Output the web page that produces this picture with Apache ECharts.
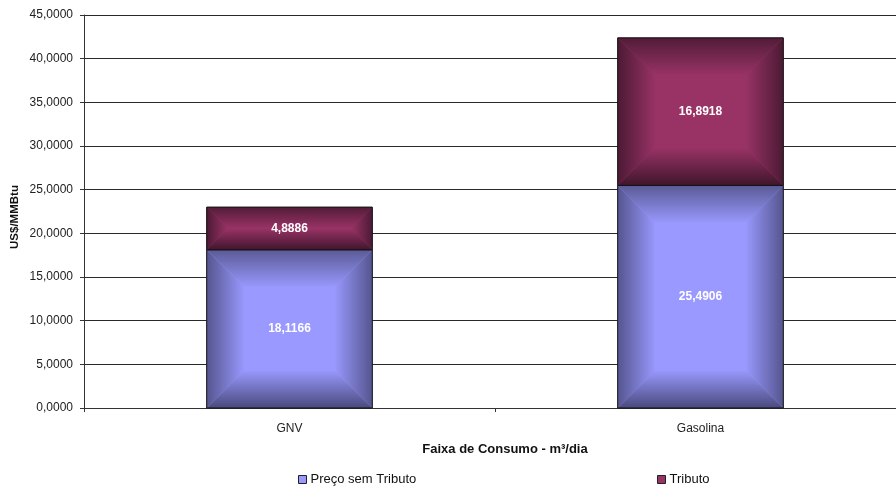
<!DOCTYPE html>
<html>
<head>
<meta charset="utf-8">
<script src="https://cdn.jsdelivr.net/npm/echarts@6/dist/echarts.min.js"></script>
<style>
  html, body { margin: 0; padding: 0; background: #fff; overflow: hidden; }
  /* the plot runs a little past the right edge of the window */
  #chart { width: 906px; height: 486px; }
</style>
</head>
<body>
<div id="chart"></div>
<script>
// Preço do GNV x Gasolina (US$/MMBtu), com e sem tributos
const categories = ['GNV', 'Gasolina'];
const precoSemTributo = [18.1166, 25.4906];
const tributo = [4.8886, 16.8918];
const yTicks = { min: 0, max: 45, interval: 5 };

const FONT = '"Liberation Sans", Arial, sans-serif';
const fmt = v => v.toFixed(4).replace('.', ',');

const chart = echarts.init(document.getElementById('chart'), null, { renderer: 'canvas' });

// Bevelled ("pillow") bar segment drawn between low and high values
function bevelRenderer(base, edge, edgeTop, edgeBottom) {
  return function (params, api) {
    const idx = api.value(0);
    const low = api.value(1);
    const high = api.value(2);
    const pLow = api.coord([idx, low]);
    const pHigh = api.coord([idx, high]);
    const band = api.size([1, 0])[0];
    const w = band * 0.403;
    const x0 = pLow[0] - w / 2, x1 = pLow[0] + w / 2;
    const y0 = pHigh[1], y1 = pLow[1];
    const h = y1 - y0;
    const b = Math.min(38, h / 2, w / 2);
    const LG = echarts.graphic.LinearGradient;
    const children = [
      { type: 'rect', shape: { x: x0, y: y0, width: w, height: h }, style: { fill: base } },
      // top
      { type: 'polygon', shape: { points: [[x0, y0], [x1, y0], [x1 - b, y0 + b], [x0 + b, y0 + b]] },
        style: { fill: new LG(0, 0, 0, 1, [{ offset: 0, color: edgeTop }, { offset: 1, color: base }]) } },
      // bottom
      { type: 'polygon', shape: { points: [[x0, y1], [x1, y1], [x1 - b, y1 - b], [x0 + b, y1 - b]] },
        style: { fill: new LG(0, 1, 0, 0, [{ offset: 0, color: edgeBottom }, { offset: 1, color: base }]) } },
      // left
      { type: 'polygon', shape: { points: [[x0, y0], [x0 + b, y0 + b], [x0 + b, y1 - b], [x0, y1]] },
        style: { fill: new LG(0, 0, 1, 0, [{ offset: 0, color: edge }, { offset: 1, color: base }]) } },
      // right
      { type: 'polygon', shape: { points: [[x1, y0], [x1 - b, y0 + b], [x1 - b, y1 - b], [x1, y1]] },
        style: { fill: new LG(1, 0, 0, 0, [{ offset: 0, color: edge }, { offset: 1, color: base }]) } },
      // outline
      { type: 'rect', shape: { x: x0, y: y0, width: w, height: h },
        style: { fill: null, stroke: '#111', lineWidth: 1 } },
      // value label
      { type: 'text', style: { text: fmt(high - low), x: (x0 + x1) / 2, y: (y0 + y1) / 2,
        align: 'center', verticalAlign: 'middle', fill: '#fff', font: 'bold 12px ' + FONT } }
    ];
    return { type: 'group', children };
  };
}

const dataPreco = precoSemTributo.map((v, i) => [i, 0, v]);
const dataTributo = tributo.map((v, i) => [i, precoSemTributo[i], precoSemTributo[i] + v]);

const legendBase = {
  top: 473, padding: 0, itemWidth: 8, itemHeight: 8, itemGap: 4, icon: 'rect',
  itemStyle: { borderColor: '#222', borderWidth: 1 },
  textStyle: { color: '#111', fontFamily: FONT, fontSize: 13, padding: [0, 0, 0, -1] }
};

chart.setOption({
  animation: false,
  backgroundColor: '#fff',
  grid: { left: 84, right: 0, top: 15, bottom: 78 },
  xAxis: {
    type: 'category',
    data: categories,
    axisLine: { lineStyle: { color: '#333', width: 1 } },
    axisTick: { show: true, alignWithLabel: false, length: 4, lineStyle: { color: '#333' } },
    axisLabel: { color: '#222', fontFamily: FONT, fontSize: 12, margin: 15 }
  },
  yAxis: {
    type: 'value',
    min: yTicks.min, max: yTicks.max, interval: yTicks.interval,
    axisLine: { show: true, lineStyle: { color: '#333', width: 1 } },
    axisTick: { show: true, length: 4, lineStyle: { color: '#333' } },
    axisLabel: { color: '#222', fontFamily: FONT, fontSize: 12, margin: 11, formatter: v => fmt(v) },
    splitLine: { show: true, lineStyle: { color: '#2a2a2a', width: 1 } }
  },
  legend: [
    Object.assign({}, legendBase, { left: 298, data: ['Preço sem Tributo'] }),
    Object.assign({}, legendBase, { left: 657, data: ['Tributo'] })
  ],
  graphic: [
    { type: 'text', x: 505, y: 449,
      style: { text: 'Faixa de Consumo - m³/dia', fill: '#111', font: 'bold 13px ' + FONT,
        align: 'center', verticalAlign: 'middle' } },
    { type: 'text', x: 15, y: 217, rotation: Math.PI / 2,
      style: { text: 'US$/MMBtu', fill: '#111', font: 'bold 11.5px ' + FONT,
        align: 'center', verticalAlign: 'middle' } }
  ],
  series: [
    { name: 'Preço sem Tributo', type: 'custom', data: dataPreco, encode: { x: 0, y: [1, 2] },
      itemStyle: { color: '#9999FF' },
      renderItem: bevelRenderer('#9999FF', '#55558f', '#5a5a96', '#4a4a7e') },
    { name: 'Tributo', type: 'custom', data: dataTributo, encode: { x: 0, y: [1, 2] },
      itemStyle: { color: '#993366' },
      renderItem: bevelRenderer('#993366', '#4c1a34', '#521c38', '#40162c') }
  ]
});
</script>
</body>
</html>
